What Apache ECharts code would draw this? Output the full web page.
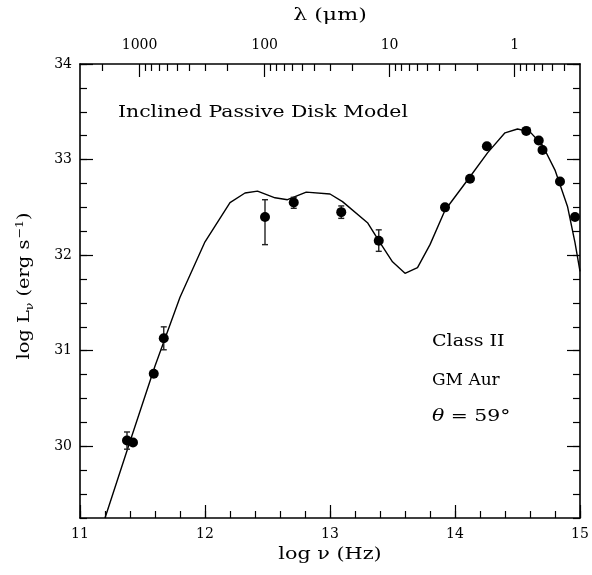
<!DOCTYPE html>
<html>
<head>
<meta charset="utf-8">
<script src="https://cdn.jsdelivr.net/npm/echarts@6/dist/echarts.min.js"></script>
<style>
  html, body { margin: 0; padding: 0; background: #fff; }
  #chart { width: 592px; height: 575px; }
</style>
</head>
<body>
<div id="chart"></div>
<script>
// Observed SED of GM Aur: log frequency (Hz) and log luminosity (erg/s)
const obsLogNu = [11.376, 11.424, 11.59, 11.67, 12.48, 12.71, 13.09, 13.39, 13.92, 14.12, 14.255, 14.57, 14.67, 14.70, 14.84, 14.96];
const obsLogL  = [30.06, 30.04, 30.76, 31.13, 32.40, 32.55, 32.45, 32.15, 32.50, 32.80, 33.14, 33.30, 33.20, 33.10, 32.77, 32.40];
// upper / lower error in dex (0 = no error bar)
const errUp    = [0.09, 0, 0, 0.12, 0.18, 0.055, 0.065, 0.115, 0, 0, 0, 0, 0, 0, 0, 0];
const errDown  = [0.09, 0, 0, 0.12, 0.29, 0.06, 0.065, 0.11, 0, 0, 0, 0, 0, 0, 0, 0];

// Inclined passive disk model curve
const modelLogNu = [11.2, 11.4, 11.6, 11.8, 12.0, 12.2, 12.32, 12.42, 12.56, 12.66, 12.81, 13.0, 13.1, 13.3, 13.4, 13.5, 13.6, 13.7, 13.8, 13.92, 14.12, 14.26, 14.4, 14.5, 14.6, 14.7, 14.8, 14.9, 14.96, 15.0];
const modelLogL  = [29.25, 30.05, 30.84, 31.56, 32.14, 32.55, 32.65, 32.67, 32.60, 32.58, 32.66, 32.64, 32.56, 32.34, 32.13, 31.93, 31.81, 31.87, 32.11, 32.47, 32.82, 33.07, 33.28, 33.32, 33.29, 33.15, 32.89, 32.51, 32.13, 31.83];

// Axis ticks
const xMajor = [11, 12, 13, 14, 15];
const yMajor = [30, 31, 32, 33, 34];
const lamMajor = [1000, 100, 10, 1];                 // microns
const lamMinor = [2000, 900, 800, 700, 600, 500, 400, 300, 200,
                  90, 80, 70, 60, 50, 40, 30, 20,
                  9, 8, 7, 6, 5, 4, 3, 2,
                  0.9, 0.8, 0.7, 0.6, 0.5, 0.4];

const X_MIN = 11, X_MAX = 15, Y_MIN = 29.25, Y_MAX = 34;
const LOG_C_MICRON = Math.log10(2.998e14);           // c in micron/s
const lamToLogNu = l => LOG_C_MICRON - Math.log10(l);

const xMinor = []; for (let i = 0; i <= 20; i++) xMinor.push(+(X_MIN + i * 0.2).toFixed(2));
const yMinor = []; for (let i = 0; i <= 19; i++) yMinor.push(+(Y_MIN + i * 0.25).toFixed(2));

const FONT = 'DejaVu Serif';
const INK = '#000';

const chart = echarts.init(document.getElementById('chart'), null, { renderer: 'canvas' });

function axisBase(extra) {
  return Object.assign({
    type: 'value', min: X_MIN, max: X_MAX,
    splitLine: { show: false },
    axisLine: { show: false, onZero: false },
    axisTick: { show: false },
    axisLabel: { show: false }
  }, extra);
}
function yBase(extra) {
  const o = axisBase(extra);
  o.min = Y_MIN; o.max = Y_MAX;
  return o;
}
const tickStyle = { color: INK, width: 1.2 };
const lineStyle = { color: INK, width: 1.6 };

const lamPositions = lamMajor.map(lamToLogNu);

const errData = [];
obsLogNu.forEach((v, i) => {
  if (errUp[i] > 0 || errDown[i] > 0) errData.push([v, obsLogL[i] - errDown[i], obsLogL[i] + errUp[i]]);
});

// wide-set serif caption text
function caption(text, x, y, sx, extraStyle, extra) {
  return Object.assign({
    type: 'text', x, y, scaleX: sx,
    style: Object.assign({ text, font: '17px "DejaVu Serif"', fill: INK }, extraStyle || {})
  }, extra || {});
}

chart.setOption({
  animation: false,
  backgroundColor: '#fff',
  grid: { left: 80, right: 12, top: 64, bottom: 57, containLabel: false },
  xAxis: [
    axisBase({
      position: 'bottom',
      axisLine: { show: true, onZero: false, lineStyle },
      axisTick: { show: true, inside: true, length: 13, lineStyle: tickStyle, customValues: xMajor },
      axisLabel: { show: true, customValues: xMajor, margin: 9, color: INK, fontFamily: FONT, fontSize: 14 }
    }),
    axisBase({
      position: 'bottom',
      axisTick: { show: true, inside: true, length: 7, lineStyle: tickStyle, customValues: xMinor }
    }),
    axisBase({
      position: 'top',
      axisLine: { show: true, onZero: false, lineStyle },
      axisTick: { show: true, inside: true, length: 13, lineStyle: tickStyle, customValues: lamPositions },
      axisLabel: {
        show: true, customValues: lamPositions, margin: 12, color: INK, fontFamily: FONT, fontSize: 14,
        formatter: v => {
          const i = lamPositions.findIndex(p => Math.abs(p - v) < 1e-6);
          return i >= 0 ? String(lamMajor[i]) : '';
        }
      }
    }),
    axisBase({
      position: 'top',
      axisTick: { show: true, inside: true, length: 7, lineStyle: tickStyle, customValues: lamMinor.map(lamToLogNu) }
    })
  ],
  yAxis: [
    yBase({
      position: 'left',
      axisLine: { show: true, onZero: false, lineStyle },
      axisTick: { show: true, inside: true, length: 13, lineStyle: tickStyle, customValues: yMajor },
      axisLabel: { show: true, customValues: yMajor, margin: 8, color: INK, fontFamily: FONT, fontSize: 14 }
    }),
    yBase({
      position: 'left',
      axisTick: { show: true, inside: true, length: 7, lineStyle: tickStyle, customValues: yMinor }
    }),
    yBase({
      position: 'right',
      axisLine: { show: true, onZero: false, lineStyle },
      axisTick: { show: true, inside: true, length: 13, lineStyle: tickStyle, customValues: yMajor }
    }),
    yBase({
      position: 'right',
      axisTick: { show: true, inside: true, length: 7, lineStyle: tickStyle, customValues: yMinor }
    })
  ],
  series: [
    {
      name: 'model', type: 'line', xAxisIndex: 0, yAxisIndex: 0,
      data: modelLogNu.map((v, i) => [v, modelLogL[i]]),
      showSymbol: false, smooth: false, clip: true,
      lineStyle: { color: INK, width: 1.4 }, z: 2
    },
    {
      name: 'errors', type: 'custom', xAxisIndex: 0, yAxisIndex: 0,
      data: errData,
      renderItem: (params, api) => {
        const lo = api.coord([api.value(0), api.value(1)]);
        const hi = api.coord([api.value(0), api.value(2)]);
        const w = 3;
        const st = { stroke: '#222', lineWidth: 1.4 };
        return {
          type: 'group',
          children: [
            { type: 'line', shape: { x1: lo[0], y1: lo[1], x2: hi[0], y2: hi[1] }, style: st },
            { type: 'line', shape: { x1: lo[0] - w, y1: lo[1], x2: lo[0] + w, y2: lo[1] }, style: st },
            { type: 'line', shape: { x1: hi[0] - w, y1: hi[1], x2: hi[0] + w, y2: hi[1] }, style: st }
          ]
        };
      },
      z: 3
    },
    {
      name: 'observed', type: 'scatter', xAxisIndex: 0, yAxisIndex: 0,
      data: obsLogNu.map((v, i) => [v, obsLogL[i]]),
      symbol: 'circle', symbolSize: 10,
      itemStyle: { color: INK, opacity: 1 }, z: 4
    }
  ],
  graphic: [
    // axis titles
    caption('λ (μm)', 330, 16, 1.3, { align: 'center', verticalAlign: 'middle' }),
    caption('log ν (Hz)', 330, 555, 1.22, { align: 'center', verticalAlign: 'middle' }),
    caption('{t|log L}{s|ν}{t| (erg s}{p|−1}{t|)}', 25, 286, 1.14, {
      align: 'center', verticalAlign: 'middle',
      rich: {
        t: { fontFamily: FONT, fontSize: 17, color: INK, lineHeight: 24 },
        s: { fontFamily: FONT, fontSize: 11, color: INK, lineHeight: 24, padding: [10, 0, 0, 0] },
        p: { fontFamily: FONT, fontSize: 11, color: INK, lineHeight: 24, padding: [0, 0, 9, 1] }
      }
    }, { rotation: Math.PI / 2 }),
    // annotations
    caption('Inclined Passive Disk Model', 118, 113, 1.2, { verticalAlign: 'middle' }),
    caption('Class II', 432, 342, 1.12, { verticalAlign: 'middle' }),
    caption('GM Aur', 432, 381, 1.0, { verticalAlign: 'middle' }),
    caption('{i|θ} = 59°', 432, 417, 1.2, {
      verticalAlign: 'middle',
      rich: { i: { fontFamily: FONT, fontStyle: 'italic', fontSize: 17, color: INK } }
    })
  ]
});
</script>
</body>
</html>
